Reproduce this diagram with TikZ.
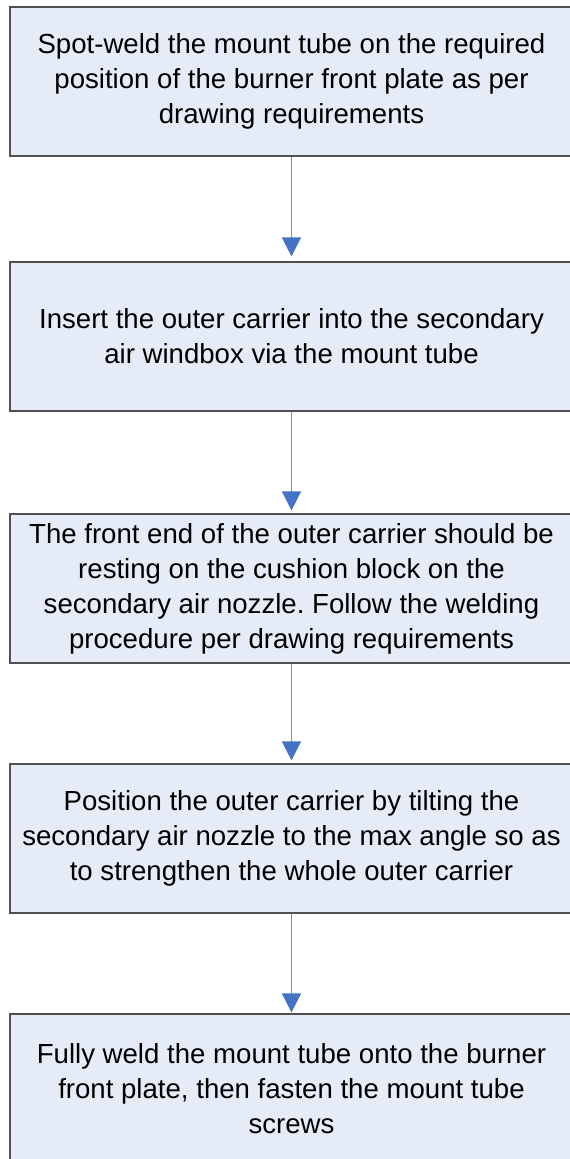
\documentclass[tikz,border=0pt]{standalone}
\usepackage{fontspec}
\setmainfont{Liberation Sans}
\usetikzlibrary{arrows.meta}
\frenchspacing
\definecolor{boxfill}{HTML}{E6ECF7}
\definecolor{boxline}{HTML}{505050}
\definecolor{arrowline}{HTML}{6A92D6}
\definecolor{arrowhead}{HTML}{4472C4}
\tikzset{
  stepbox/.style={draw=boxline, fill=boxfill, line width=1.2pt, minimum width=563pt, minimum height=149pt, inner sep=0pt, align=center, font=\fontsize{27.6}{35}\selectfont},
  flowarrow/.style={draw=arrowline, line width=1.6pt, -{Triangle[width=19pt,length=19pt,color=arrowhead,fill=arrowhead]}}
}
\begin{document}
\begin{tikzpicture}[x=1pt,y=1pt]
\useasboundingbox (0,0) rectangle (570,-1159);
\node[stepbox] (s1) at (291.5,-81.5) {Spot-weld the mount tube on the required\\position of the burner front plate as per\\drawing requirements};
\node[stepbox] (s2) at (291.5,-336.5) {Insert the outer carrier into the secondary\\air windbox via the mount tube};
\node[stepbox] (s3) at (291.5,-588.5) {The front end of the outer carrier should be\\resting on the cushion block on the\\secondary air nozzle. Follow the welding\\procedure per drawing requirements};
\node[stepbox] (s4) at (291.5,-838.5) {Position the outer carrier by tilting the\\secondary air nozzle to the max angle so as\\to strengthen the whole outer carrier};
\node[stepbox] (s5) at (291.5,-1088.5) {Fully weld the mount tube onto the burner\\front plate, then fasten the mount tube\\screws};
\draw[flowarrow, shorten >=5pt] (s1.south) -- (s2.north);
\draw[flowarrow, shorten >=3pt] (s2.south) -- (s3.north);
\draw[flowarrow, shorten >=3pt] (s3.south) -- (s4.north);
\draw[flowarrow, shorten >=1pt] (s4.south) -- (s5.north);
\end{tikzpicture}
\end{document}
